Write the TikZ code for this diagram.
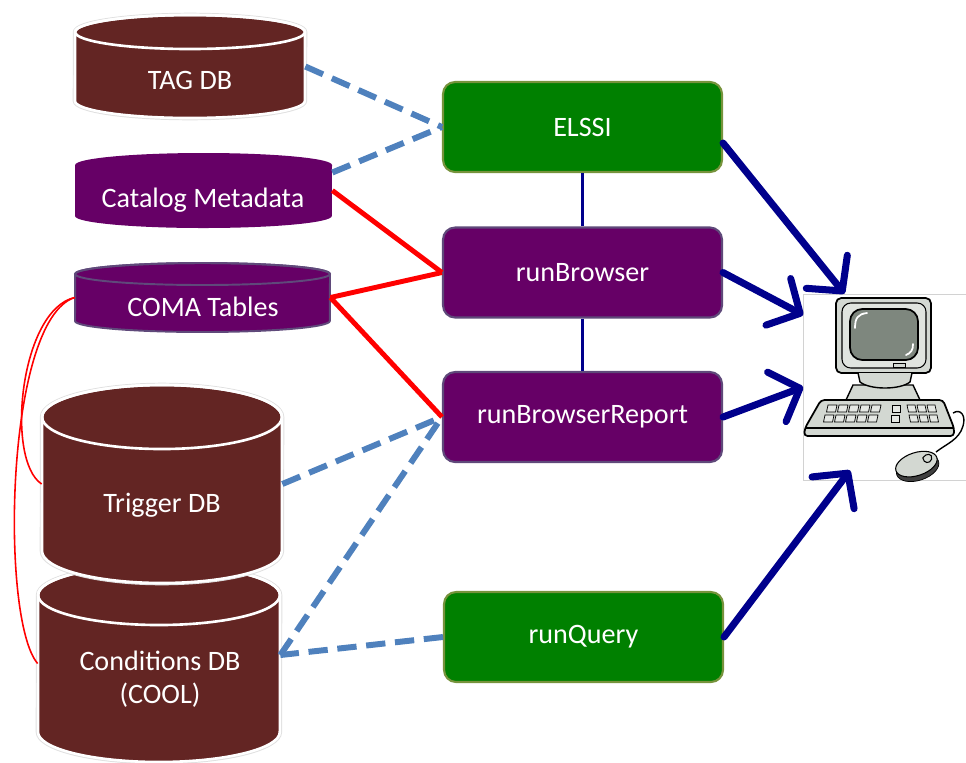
\documentclass[tikz,border=0pt]{standalone}
\usepackage{fontspec}
\setmainfont{Carlito}
\usetikzlibrary{arrows.meta,calc}

\definecolor{dbbrown}{HTML}{632523}
\definecolor{dbpurple}{HTML}{660066}
\definecolor{edgepurple}{HTML}{5F497A}
\definecolor{toolgreen}{HTML}{008000}
\definecolor{edgegreen}{HTML}{77933C}
\definecolor{linkblue}{HTML}{4F81BD}
\definecolor{usernavy}{HTML}{00008C}
\definecolor{pcgray}{HTML}{D3D8D2}
\definecolor{screengray}{HTML}{7E877E}

% drum: name, centre x, centre y, width, height, cap radius, kind
\newcommand{\dbdrum}[7]{%
  \path[#7 body] ({#2-#4/2},{#3+#5/2-#6})
    arc[start angle=180, end angle=360, x radius={#4*0.01cm}, y radius={#6*0.02cm}]
    -- ({#2+#4/2},{#3-#5/2+#6})
    arc[start angle=0, end angle=180, x radius={#4*0.01cm}, y radius={#6*0.02cm}] -- cycle;
  \path[#7 rim] ({#2},{#3-#5/2+#6}) ellipse[x radius={#4*0.01cm}, y radius={#6*0.02cm}];
  \node[minimum width={#4*0.02cm}, minimum height={#5*0.02cm}, inner sep=0pt] (#1) at (#2,#3) {};
}

\tikzset{
  brown body/.style={fill=dbbrown, draw=white, line width=1.5pt, preaction={draw=black!12, line width=2.6pt}},
  brown rim/.style={draw=white, line width=1.5pt},
  meta body/.style={fill=dbpurple},
  meta rim/.style={},
  coma body/.style={fill=dbpurple, draw=edgepurple, line width=1.1pt},
  coma rim/.style={draw=edgepurple, line width=1.1pt},
  dblabel/.style={text=white, align=center},
  tool/.style={rectangle, rounded corners=0.24cm, draw=edgegreen, fill=toolgreen, line width=1.2pt,
    minimum width=5.58cm, minimum height=1.8cm, text=white},
  browse/.style={tool, draw=edgepurple, fill=dbpurple},
  weblink/.style={linkblue, line width=3.4pt, dash pattern=on 11pt off 5.5pt},
  coollink/.style={red, line width=2.8pt},
  schemalink/.style={red, line width=0.9pt},
  chain/.style={usernavy, line width=1.2pt},
  toscreen/.style={usernavy, line width=4pt, line cap=round, -{Straight Barb[length=14pt,width=30pt,round]}},
  key/.style={draw=black, line width=0.4pt, fill=pcgray!60},
}

\begin{document}
\begin{tikzpicture}[x=0.02cm, y=-0.02cm, font=\fontsize{16}{19}\selectfont]
\useasboundingbox (0,0) rectangle (966,762);

% Databases
\dbdrum{tag}{190}{66.5}{230}{103}{17}{brown}
\node[dblabel] (tagtext) at (190,80) {TAG DB};

\dbdrum{catalog}{203.5}{190.5}{257}{75}{12}{meta}
\node[dblabel] (catalogtext) at (203,200) {Catalog Metadata};

\dbdrum{coma}{202.5}{297.5}{255}{69}{11}{coma}
\node[dblabel] (comatext) at (203,307) {COMA Tables};

\dbdrum{cool}{159}{663.5}{242}{197}{30}{brown}
\node[dblabel] (cooltext) at (160,679) {Conditions DB\\(COOL)};

\dbdrum{trigger}{162}{484}{240}{198}{32}{brown}
\node[dblabel] (triggertext) at (162,505) {Trigger DB};

% Tools
\node[tool] (elssi) at (582.5,127) {ELSSI};
\node[browse] (browser) at (582.5,272.5) {runBrowser};
\node[browse] (report) at (582.5,417) {runBrowserReport};
\node[tool] (query) at (583.5,637) {runQuery};

% User
\node[draw=gray!35, fill=white, line width=0.4pt, minimum width=3.3cm, minimum height=3.72cm] (pc) at (886,387) {};

% Computer clip art
\draw[fill=pcgray, line width=1pt, rounded corners=3] (836,298) rectangle (931,373);
\draw[fill=pcgray!70, line width=0.6pt, rounded corners=5] (842,303) rectangle (926,368);
\draw[fill=screengray, line width=1pt, rounded corners=7] (850,309) rectangle (918,360);
\draw[white, line width=1pt, line cap=round] (855,328) .. controls (855,318) and (858,314) .. (867,313);
\draw[white, line width=1pt, line cap=round] (913,344) .. controls (913,350) and (911,353) .. (906,355);
\draw[fill=pcgray, line width=0.5pt] (893,363) rectangle (905,367);
\draw[fill=pcgray, line width=0.8pt] (853,385) -- (846,400) -- (920,400) -- (913,385) -- cycle;
\draw[fill=pcgray, line width=0.8pt] (858,373) -- (860,382) .. controls (870,390) and (900,390) .. (910,382) -- (912,373);
\draw[fill=pcgray, line width=1pt, rounded corners=2] (805,428) -- (821,400) -- (943,400) -- (954,428) -- (954,436) -- (804,436) -- cycle;
\draw[line width=0.6pt] (805,428) -- (954,428);
\foreach \r in {0,1}
  \foreach \c in {0,...,4}
    \draw[key] ({828+\c*11-\r*3},{405+\r*10}) -- ++(9,0) -- ++(-1.5,7) -- ++(-9,0) -- cycle;
\foreach \r in {0,1}
  \draw[key] ({892-\r},{405+\r*10}) -- ++(8,0) -- ++(0,7) -- ++(-8,0) -- cycle;
\foreach \r in {0,1}
  \foreach \c in {0,1,2}
    \draw[key] ({907+\c*10+\r*2},{405+\r*10}) -- ++(8,0) -- ++(1.5,7) -- ++(-8,0) -- cycle;
\draw[line width=0.8pt] (953,413) .. controls (961,408) and (966,416) .. (963,426) .. controls (959,440) and (946,444) .. (936,452);
\draw[fill=black!75, rotate around={18:(917,466)}] (917,468) ellipse [x radius=0.44cm, y radius=0.25cm];
\draw[fill=pcgray, line width=0.6pt, rotate around={18:(917,466)}] (917,464) ellipse [x radius=0.43cm, y radius=0.23cm];
\draw[line width=0.6pt, rotate around={18:(917,466)}] (925,460) .. controls (930,456) and (936,459) .. (933,464) .. controls (930,468) and (924,466) .. (925,460);

% Links to the databases
\draw[weblink] (tag.east) -- (elssi.west);
\draw[weblink] ([yshift=0.36cm]catalog.east) -- (elssi.west);
\draw[coollink] (catalog.east) -- (browser.west);
\draw[coollink] (coma.east) -- (browser.west);
\draw[coollink] (coma.east) -- (report.west);
\draw[weblink] (trigger.east) -- (report.west);
\draw[weblink] ([yshift=0.17cm]cool.east) -- (report.west);
\draw[weblink] (query.west) -- ([yshift=0.17cm]cool.east);
\draw[schemalink] (coma.west) .. controls (20,310) and (5,460) .. (trigger.west);
\draw[schemalink] (coma.west) .. controls (5,320) and (0,620) .. (cool.west);

% Tool chain
\draw[chain] (elssi.south) -- (browser.north);
\draw[chain] (browser.south) -- (report.north);

% Output to the user
\draw[toscreen] ([yshift=-0.32cm]elssi.east) -- (pc.114);
\draw[toscreen] (browser.east) -- (pc.139);
\draw[toscreen] (report.east) -- (pc.west);
\draw[toscreen, shorten >=-0.25cm] (query.east) -- (pc.245);
\end{tikzpicture}
\end{document}
